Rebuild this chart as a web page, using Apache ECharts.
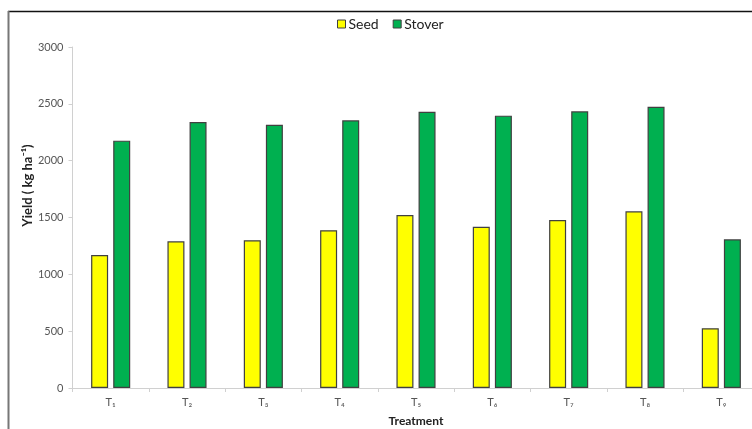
<!DOCTYPE html>
<html>
<head>
<meta charset="utf-8">
<script src="https://cdn.jsdelivr.net/npm/echarts@6/dist/echarts.min.js"></script>
<style>html,body{margin:0;padding:0;background:#fff}#c{width:752px;height:429px}</style>
</head>
<body>
<div id="c"></div>
<script>
const categories = ['T\u2081','T\u2082','T\u2083','T\u2084','T\u2085','T\u2086','T\u2087','T\u2088','T\u2089'];
const seed = [1170, 1290, 1300, 1388, 1522, 1418, 1477, 1554, 526];
const stover = [2176, 2340, 2316, 2355, 2430, 2396, 2434, 2474, 1308];
const yTicks = [0, 500, 1000, 1500, 2000, 2500, 3000];

const FONT = 'Lato';
const chart = echarts.init(document.getElementById('c'), null, {renderer: 'canvas'});
chart.setOption({
  animation: false,
  backgroundColor: '#fff',
  textStyle: {fontFamily: FONT},
  graphic: [
    {type: 'line', shape: {x1: 8, y1: 11.5, x2: 760, y2: 11.5}, style: {stroke: '#111', lineWidth: 1.5}, z: 100},
    {type: 'line', shape: {x1: 8.5, y1: 11, x2: 8.5, y2: 440}, style: {stroke: '#777', lineWidth: 2}, z: 100}
  ],
  legend: {
    top: 12,
    left: 332,
    itemWidth: 8,
    itemHeight: 8,
    itemGap: 14,
    icon: 'rect',
    textStyle: {fontFamily: FONT, fontSize: 14, color: '#222', padding: [0, 0, 0, -2]},
    data: [
      {name: 'Seed', itemStyle: {color: '#FFFF00', borderColor: '#404040', borderWidth: 1}},
      {name: 'Stover', itemStyle: {color: '#00B050', borderColor: '#404040', borderWidth: 1}}
    ]
  },
  grid: {left: 72.5, top: 47, bottom: 41, width: 687, containLabel: false, outerBoundsMode: 'none'},
  xAxis: {
    type: 'category',
    data: categories,
    name: 'Treatment',
    nameLocation: 'middle',
    nameGap: 27,
    nameMoveOverlap: false,
    nameTextStyle: {fontFamily: FONT, fontSize: 12, fontWeight: 'bold', color: '#222'},
    axisLine: {lineStyle: {color: '#d0d0d0', width: 1}},
    axisTick: {show: true, length: 4, lineStyle: {color: '#d0d0d0'}},
    axisLabel: {fontFamily: FONT, fontSize: 11, color: '#555', margin: 9}
  },
  yAxis: {
    type: 'value',
    min: 0,
    max: 3000,
    interval: 500,
    name: '{sp| }{a|Yield ( kg ha\u207B\u00B9)}',
    nameLocation: 'middle',
    nameGap: 38,
    nameMoveOverlap: false,
    nameTextStyle: {
      fontFamily: FONT, fontSize: 13, fontWeight: 'bold', color: '#222',
      rich: {
        sp: {width: 64},
        a: {fontFamily: FONT, fontSize: 13, fontWeight: 'bold', color: '#222'}
      }
    },
    axisLine: {show: true, lineStyle: {color: '#d0d0d0', width: 1}},
    axisTick: {show: true, length: 4, lineStyle: {color: '#d0d0d0'}},
    splitLine: {show: false},
    axisLabel: {fontFamily: FONT, fontSize: 11, color: '#555', margin: 9,
      formatter: v => yTicks.includes(v) ? String(v) : ''}
  },
  series: [
    {name: 'Seed', type: 'bar', data: seed, barWidth: 17, barGap: '30%',
     itemStyle: {color: '#FFFF00', borderColor: '#404040', borderWidth: 1.2}},
    {name: 'Stover', type: 'bar', data: stover, barWidth: 17, barGap: '30%',
     itemStyle: {color: '#00B050', borderColor: '#404040', borderWidth: 1.2}}
  ]
});
</script>
</body>
</html>
